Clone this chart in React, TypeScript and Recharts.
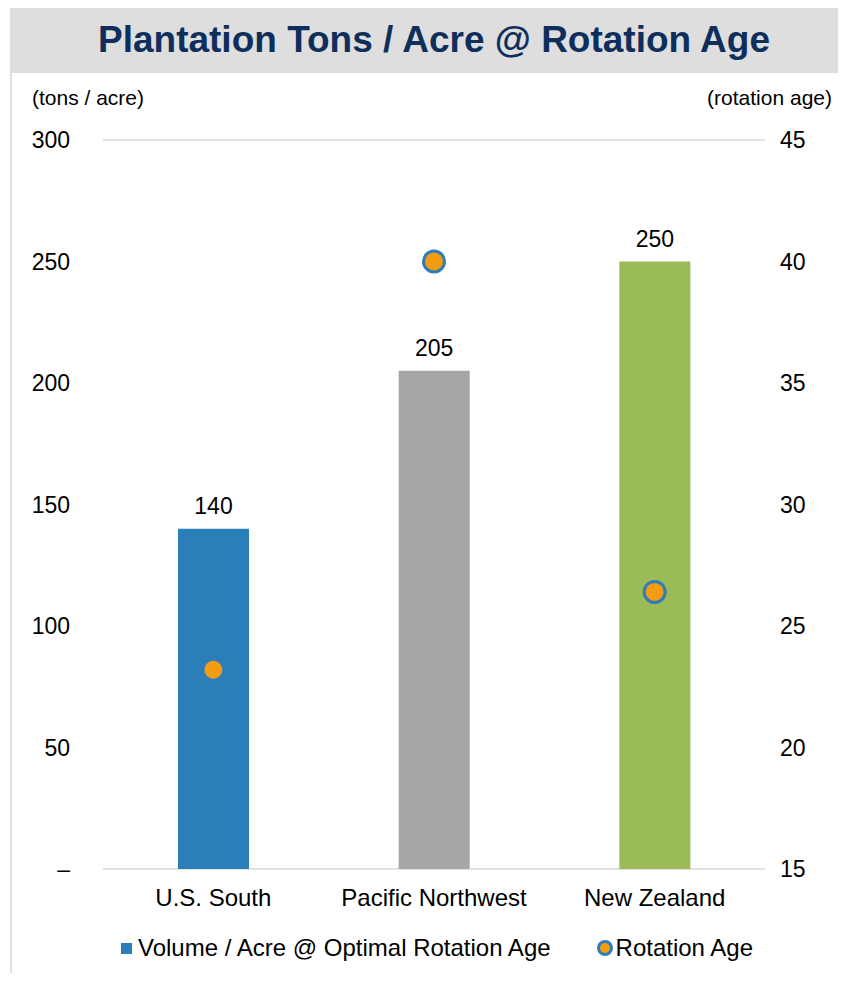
import React from "react";
import {
  ComposedChart,
  Bar,
  Line,
  Cell,
  XAxis,
  YAxis,
  CartesianGrid,
  Legend,
  LabelList,
} from "recharts";

const regions = ["U.S. South", "Pacific Northwest", "New Zealand"];
const tonsPerAcre = [140, 205, 250];
const rotationAge = [23.2, 40, 26.4];
const barColors = ["#2a7fb8", "#a6a6a6", "#9bbb59"];
const leftTicks = [0, 50, 100, 150, 200, 250, 300];
const rightTicks = [15, 20, 25, 30, 35, 40, 45];

const data = regions.map((region, i) => ({
  region,
  volume: tonsPerAcre[i],
  age: rotationAge[i],
}));

const FONT = "'Liberation Sans', Arial, sans-serif";
const ORANGE = "#f39c12";
const RING = "#2e7dba";

function LegendBox() {
  return (
    <div
      style={{
        display: "flex",
        justifyContent: "flex-start",
        alignItems: "center",
        paddingLeft: 121,
        fontFamily: FONT,
        fontSize: 24,
        color: "#000",
        lineHeight: "28px",
      }}
    >
      <span style={{ width: 11, height: 11, background: barColors[0], marginRight: 6 }} />
      <span>Volume / Acre @ Optimal Rotation Age</span>
      <span
        style={{
          width: 10,
          height: 10,
          borderRadius: "50%",
          background: ORANGE,
          border: `3px solid ${RING}`,
          marginLeft: 46,
          marginRight: 3,
        }}
      />
      <span>Rotation Age</span>
    </div>
  );
}

export default function App() {
  return (
    <div style={{ position: "relative", width: 846, height: 981, margin: -8, background: "#fff", fontFamily: FONT }}>
      {/* title band */}
      <div
        style={{
          position: "absolute",
          left: 10,
          top: 4,
          width: 836,
          height: 69,
          background: "#dedede",
          display: "flex",
          alignItems: "center",
          justifyContent: "center",
          color: "#0e2e5c",
          fontWeight: "bold",
          fontSize: 37,
        }}
      >
        <span style={{ marginLeft: 12, marginTop: 2 }}>Plantation Tons / Acre @ Rotation Age</span>
      </div>
      <div style={{ position: "absolute", left: 10, top: 73, width: 2, height: 908, background: "#e0e0e0" }} />
      <div style={{ position: "absolute", left: 32, top: 86, fontSize: 21 }}>(tons / acre)</div>
      <div style={{ position: "absolute", right: 14, top: 86, fontSize: 21 }}>(rotation age)</div>

      <div style={{ position: "absolute", left: 0, top: 0 }}>
        <ComposedChart
          width={846}
          height={981}
          data={data}
          margin={{ top: 140, right: 0, bottom: 82, left: 0 }}
          barCategoryGap="34%"
        >
          <CartesianGrid vertical={false} stroke="#d9d9d9" strokeWidth={1.5} />
          <XAxis
            dataKey="region"
            height={30}
            axisLine={false}
            tickLine={false}
            tickSize={0}
            tickMargin={20}
            tick={{ fill: "#000", fontSize: 24, fontFamily: FONT }}
          />
          <YAxis
            yAxisId="left"
            width={103}
            domain={[0, 300]}
            ticks={leftTicks}
            axisLine={false}
            tickLine={false}
            tickSize={0}
            tickMargin={33}
            tickFormatter={(v: number) => (v === 0 ? "–" : String(v))}
            tick={{ fill: "#000", fontSize: 23, fontFamily: FONT }}
          />
          <YAxis
            yAxisId="right"
            orientation="right"
            width={81}
            domain={[15, 45]}
            ticks={rightTicks}
            axisLine={false}
            tickLine={false}
            tickSize={0}
            tickMargin={15}
            tick={{ fill: "#000", fontSize: 23, fontFamily: FONT, textAnchor: "start" }}
          />
          <Legend
            verticalAlign="middle"
            align="center"
            content={() => <LegendBox />}
            wrapperStyle={{ top: 934, left: 0, width: 846 }}
          />
          <Bar yAxisId="left" dataKey="volume" isAnimationActive={false}>
            {data.map((d, i) => (
              <Cell key={d.region} fill={barColors[i]} />
            ))}
            <LabelList dataKey="volume" position="top" offset={15} fill="#000" fontSize={23} fontFamily={FONT} />
          </Bar>
          <Line
            yAxisId="right"
            dataKey="age"
            stroke="none"
            isAnimationActive={false}
            activeDot={false}
            dot={{ r: 10.5, fill: ORANGE, stroke: RING, strokeWidth: 3 }}
          />
        </ComposedChart>
      </div>
    </div>
  );
}
